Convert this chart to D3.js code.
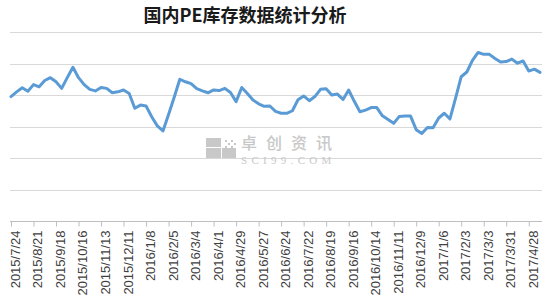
<!DOCTYPE html>
<html>
<head>
<meta charset="utf-8">
<script src="https://cdn.jsdelivr.net/npm/d3@7"></script>
<style>
  body { margin: 0; background: #fff; }
</style>
</head>
<body>
<div id="chart"></div>
<script>
// weekly PE inventory (arbitrary units, no y labels shown)
const values = [
  39.5, 41.0, 42.3, 41.2, 43.3, 42.6, 44.6, 45.5, 44.2, 42.1,
  45.5, 48.8, 45.5, 43.3, 41.8, 41.3, 42.4, 42.1, 40.7, 41.0,
  41.6, 40.5, 35.8, 36.8, 36.5, 33.1, 30.2, 28.6, 33.8, 39.3,
  45.0, 44.2, 43.6, 42.0, 41.3, 40.7, 41.6, 41.4, 42.1, 40.8,
  37.9, 42.4, 40.5, 38.4, 37.2, 36.4, 36.5, 34.8, 34.2, 34.2,
  35.0, 38.5, 39.7, 38.2, 39.5, 41.8, 42.0, 40.0, 40.3, 38.6,
  41.6, 38.0, 34.7, 35.2, 36.0, 36.0, 33.4, 32.2, 31.0, 33.2,
  33.3, 33.3, 29.0, 27.8, 29.7, 29.6, 32.7, 34.2, 32.4, 39.0,
  45.8, 47.3, 51.0, 53.5, 52.9, 52.9, 51.6, 50.5, 50.6, 51.4,
  50.1, 50.8, 47.6, 48.2, 47.2
];

// one label every 4 weeks
const tickLabels = [
  "2015/7/24", "2015/8/21", "2015/9/18", "2015/10/16", "2015/11/13", "2015/12/11",
  "2016/1/8", "2016/2/5", "2016/3/4", "2016/4/1", "2016/4/29", "2016/5/27",
  "2016/6/24", "2016/7/22", "2016/8/19", "2016/9/16", "2016/10/14", "2016/11/11",
  "2016/12/9", "2017/1/6", "2017/2/3", "2017/3/3", "2017/3/31", "2017/4/28"
];
const labelStep = 4;
const gridValues = [10, 20, 30, 40, 50, 60];

const categories = d3.range(values.length);

const width = 550, height = 300;
const plotLeft = 10, plotRight = 542, plotTop = 32, plotBottom = 221;

const svg = d3.select("#chart")
    .append("svg")
    .attr("width", width)
    .attr("height", height);

const x = d3.scalePoint()
    .domain(categories)
    .range([11, 540]);

const y = d3.scaleLinear()
    .domain([0, 60])
    .range([plotBottom, plotTop]);

// title
svg.append("text")
    .attr("x", 245)
    .attr("y", 22)
    .attr("text-anchor", "middle")
    .style("font-family", "'Noto Sans CJK SC', sans-serif")
    .style("font-weight", "bold")
    .style("font-size", "18px")
    .style("fill", "#1a1a1a")
    .text("国内PE库存数据统计分析");

// gridlines
svg.append("g")
    .selectAll("line")
    .data(gridValues)
    .enter().append("line")
    .attr("x1", plotLeft)
    .attr("x2", plotRight)
    .attr("y1", d => Math.round(y(d)) + 0.5)
    .attr("y2", d => Math.round(y(d)) + 0.5)
    .attr("stroke", "#d9d9d9")
    .attr("stroke-width", 1);

// watermark
const wm = svg.append("g").attr("fill", "#c8c8c8");
wm.append("rect").attr("x", 206).attr("y", 138).attr("width", 15).attr("height", 9);
wm.append("rect").attr("x", 206).attr("y", 148).attr("width", 15).attr("height", 10);
wm.append("rect").attr("x", 222).attr("y", 148).attr("width", 14).attr("height", 10);
[[225, 140], [231, 140], [228, 143], [234, 143], [225, 146], [231, 146]].forEach(p => {
    wm.append("rect").attr("x", p[0]).attr("y", p[1]).attr("width", 2).attr("height", 2);
});
wm.append("text")
    .attr("x", 241)
    .attr("y", 149)
    .style("font-family", "'Noto Sans CJK SC', sans-serif")
    .style("font-size", "16px")
    .style("font-weight", "500")
    .style("letter-spacing", "9px")
    .text("卓创资讯");
wm.append("text")
    .attr("x", 241)
    .attr("y", 164)
    .style("font-family", "'Liberation Serif', serif")
    .style("font-size", "11px")
    .style("letter-spacing", "4.3px")
    .text("SCI99.COM");

// x axis
const xAxis = svg.append("g")
    .attr("transform", `translate(0,${plotBottom + 0.5})`)
    .call(d3.axisBottom(x)
        .tickValues(categories.filter(i => i % labelStep === 0))
        .tickSize(5)
        .tickSizeOuter(0)
        .tickFormat(i => tickLabels[i / labelStep]));

xAxis.select(".domain")
    .attr("d", `M${plotLeft},0H${plotRight}`)
    .attr("stroke", "#bfbfbf");
xAxis.selectAll(".tick line").attr("stroke", "#bfbfbf");
xAxis.selectAll("text")
    .attr("transform", "rotate(-90)")
    .attr("x", -9)
    .attr("y", 0)
    .attr("dx", 0)
    .attr("dy", "0.65em")
    .style("text-anchor", "end")
    .style("font-family", "'Liberation Sans', sans-serif")
    .style("font-size", "13px")
    .style("fill", "#404040");

// series
const line = d3.line()
    .x((d, i) => x(categories[i]))
    .y(d => y(d));

svg.append("path")
    .datum(values)
    .attr("d", line)
    .attr("fill", "none")
    .attr("stroke", "#5b9bd5")
    .attr("stroke-width", 3)
    .attr("stroke-linejoin", "round")
    .attr("stroke-linecap", "round");
</script>
</body>
</html>
